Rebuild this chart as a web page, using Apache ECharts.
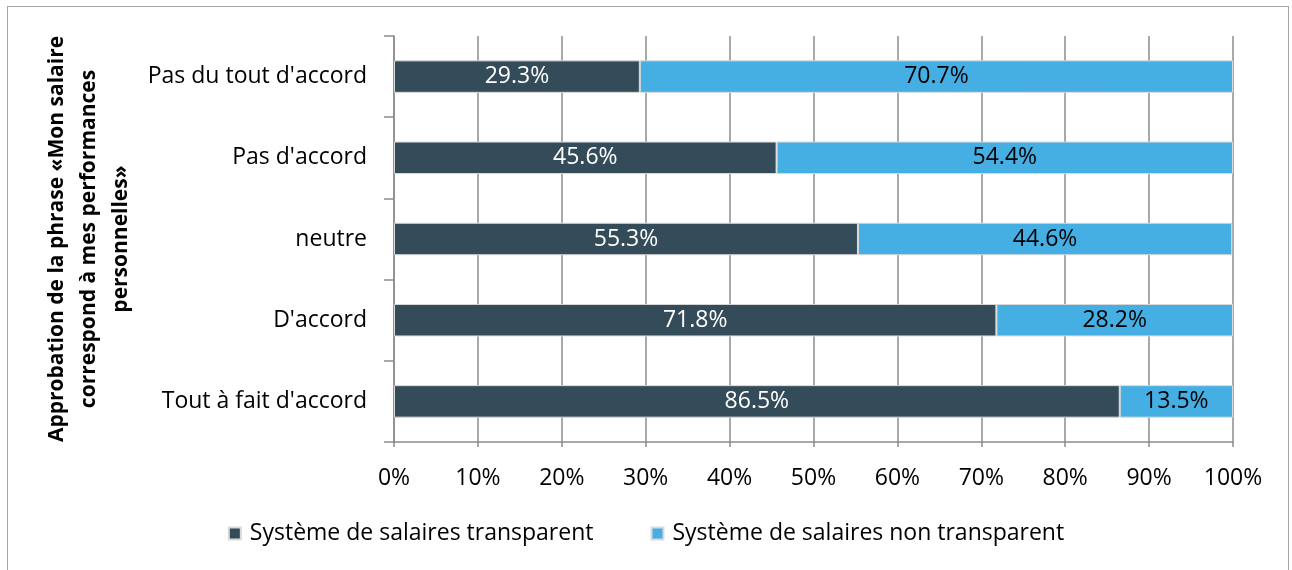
<!DOCTYPE html>
<html><head><meta charset="utf-8">
<script src="https://cdn.jsdelivr.net/npm/echarts@6/dist/echarts.min.js"></script>
<style>
html,body{margin:0;padding:0;background:#fff;width:1292px;height:570px;overflow:hidden;}
#frame{position:absolute;left:7px;top:6px;width:1282px;height:600px;border:1px solid #a6a6a6;box-sizing:border-box;}
#c{position:absolute;left:0;top:0;width:1292px;height:570px;}
</style></head>
<body>
<div id="frame"></div>
<div id="c"></div>
<script>
const categories = ["Pas du tout d'accord", "Pas d'accord", "neutre", "D'accord", "Tout à fait d'accord"];
const transparent = [29.3, 45.6, 55.3, 71.8, 86.5];
const nonTransparent = [70.7, 54.4, 44.6, 28.2, 13.5];
const seriesNames = ["Système de salaires transparent", "Système de salaires non transparent"];
const yTitle = "Approbation de la phrase «Mon salaire\ncorrespond à mes performances\npersonnelles»";

const chart = echarts.init(document.getElementById('c'), null, {renderer:'canvas'});
const font = "'Open Sans', sans-serif";
chart.setOption({
  animation:false,
  backgroundColor:'transparent',
  grid:{left:394, right:59, top:36, bottom:128, containLabel:false, outerBoundsMode:'none'},
  legend:{
    bottom:20, left:'center',
    itemWidth:12, itemHeight:12, itemGap:57, icon:'rect',
    textStyle:{fontFamily:font, fontSize:23, color:'#000', padding:[0,0,0,4]},
    data:seriesNames
  },
  xAxis:{
    type:'value', min:0, max:100, interval:10,
    axisLabel:{formatter:'{value}%', fontFamily:font, fontSize:23, color:'#000', margin:25},
    axisLine:{show:true, lineStyle:{color:'#8c8c8c', width:1.5}},
    axisTick:{show:true, length:5, lineStyle:{color:'#8c8c8c', width:1.5}},
    splitLine:{show:true, lineStyle:{color:'#8c8c8c', width:1.5}}
  },
  yAxis:{
    type:'category', data:categories, inverse:true,
    name:yTitle, nameLocation:'middle', nameGap:254, nameRotate:90,
    nameTextStyle:{fontFamily:font, fontWeight:'bold', fontSize:21, color:'#000', lineHeight:32, align:'center'},
    axisLabel:{fontFamily:font, fontSize:23, color:'#000', margin:27},
    axisLine:{show:true, lineStyle:{color:'#8c8c8c', width:1.5}},
    axisTick:{show:true, length:10, lineStyle:{color:'#8c8c8c', width:1.5}}
  },
  series:[
    {name:seriesNames[0], type:'bar', stack:'s', data:transparent, barWidth:'40%',
     itemStyle:{color:'#344b59', borderColor:'#d9d9d9', borderWidth:1},
     label:{show:true, position:'inside', formatter:'{c}%', color:'#fff', fontFamily:font, fontSize:23}},
    {name:seriesNames[1], type:'bar', stack:'s', data:nonTransparent, barWidth:'40%',
     itemStyle:{color:'#45aee3', borderColor:'#d9d9d9', borderWidth:1},
     label:{show:true, position:'inside', formatter:'{c}%', color:'#000', fontFamily:font, fontSize:23}}
  ]
});
</script>
</body></html>
